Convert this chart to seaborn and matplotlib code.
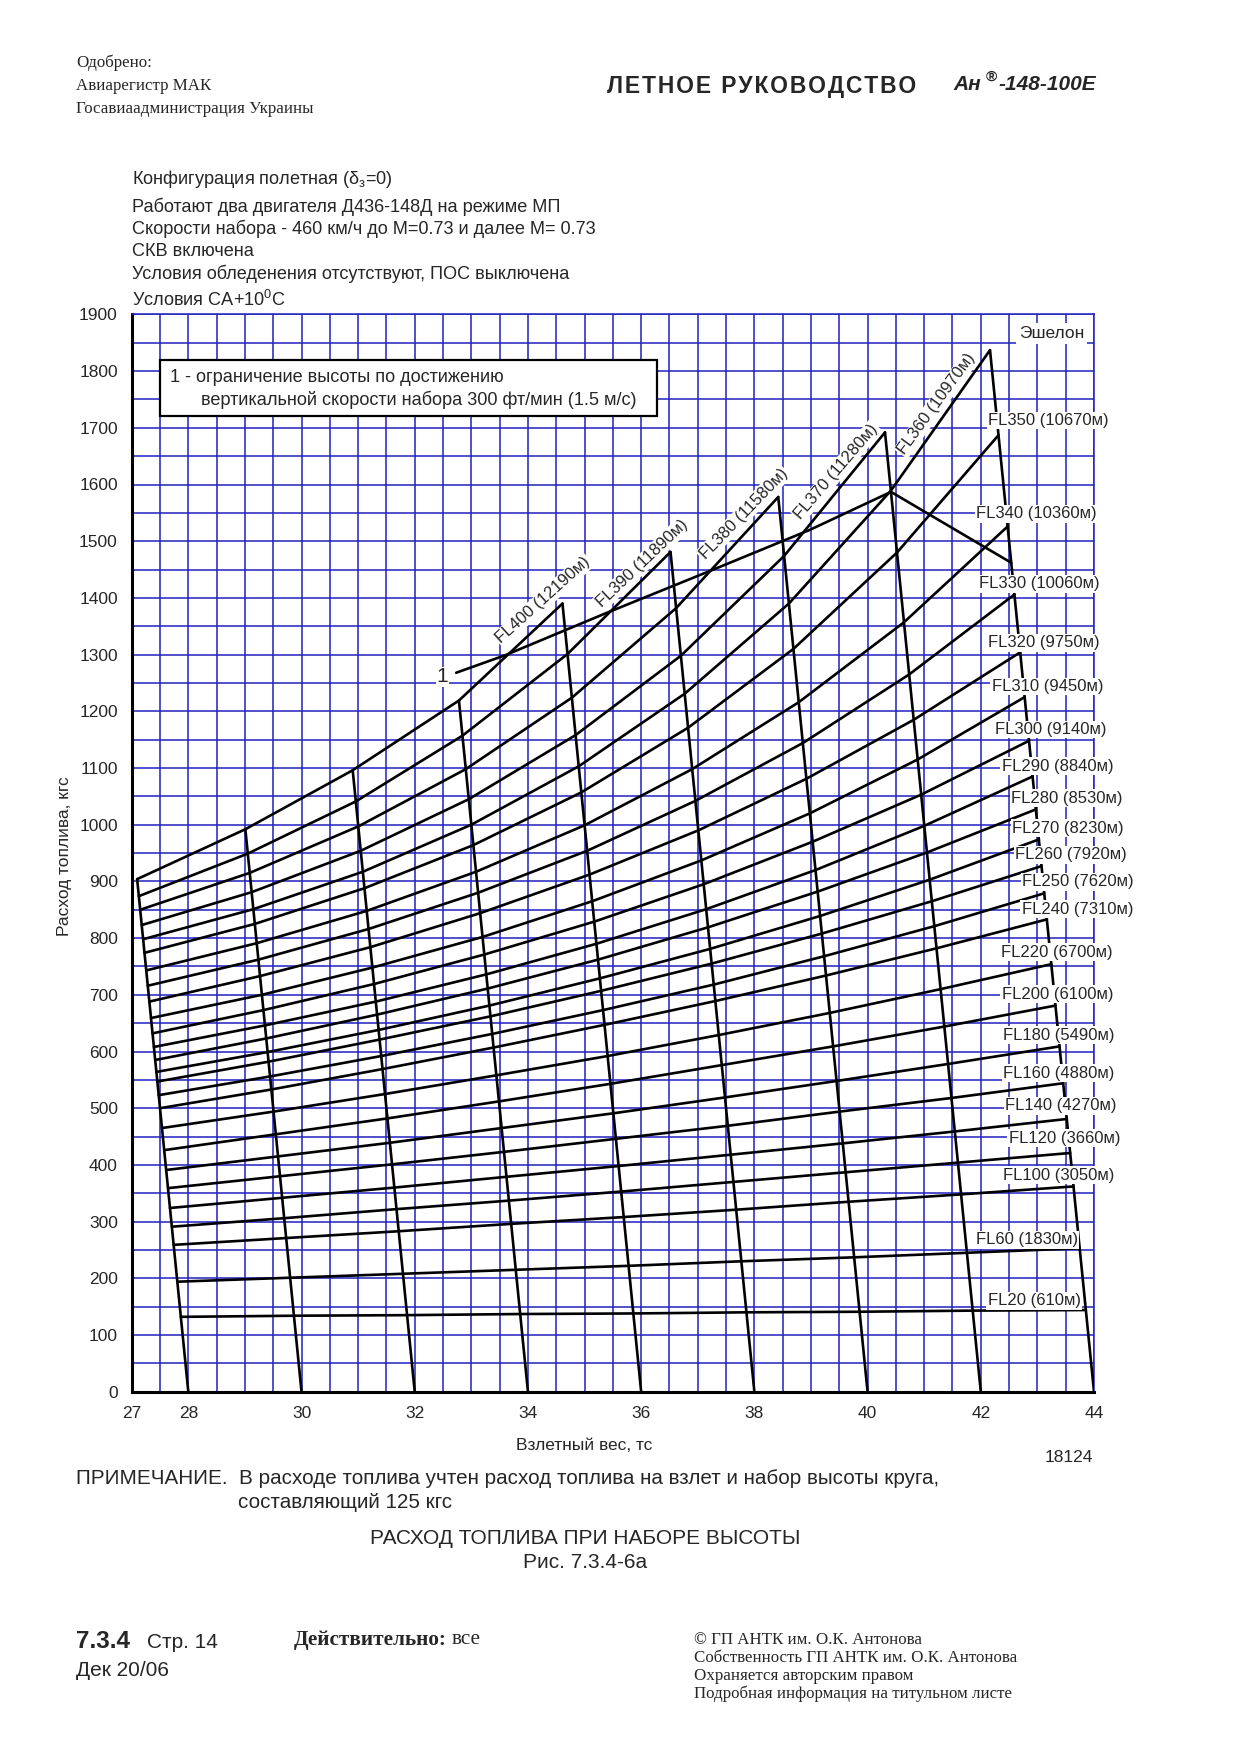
import matplotlib
matplotlib.use("Agg")
import matplotlib.pyplot as plt
from matplotlib.ticker import MultipleLocator
from matplotlib.patches import Rectangle
import numpy as np
import pandas as pd
import seaborn as sns

# ---------------- data ----------------
weights = [28, 30, 32, 34, 36, 38, 40, 42, 44]          # takeoff weight, tc
fl_names = ["FL400", "FL390", "FL380", "FL370", "FL360", "FL350", "FL340",
            "FL330", "FL320", "FL310", "FL300", "FL290", "FL280", "FL270",
            "FL260", "FL250", "FL240", "FL220", "FL200", "FL180", "FL160",
            "FL140", "FL120", "FL100", "FL60", "FL20"]
fl_alts = ["12190м", "11890м", "11580м", "11280м", "10970м", "10670м", "10360м",
           "10060м", "9750м", "9450м", "9140м", "8840м", "8530м", "8230м",
           "7920м", "7620м", "7310м", "6700м", "6100м", "5490м", "4880м",
           "4270м", "3660м", "3050м", "1830м", "610м"]

# fuel (kgs) at weights 28, 30, ... up to the line's last weight
fuel_fl400 = [904, 992, 1096, 1219, 1390]
fuel_fl390 = [874, 949, 1041, 1157, 1301, 1481]
fuel_fl380 = [850, 915, 997, 1098, 1224, 1382, 1578]
fuel_fl370 = [823, 881, 954, 1045, 1158, 1298, 1474, 1692]
fuel_fl360 = [798, 851, 917, 1000, 1103, 1231, 1390, 1589, 1837]
fuel_fl350 = [774, 825, 888, 964, 1057, 1171, 1310, 1480, 1687]
fuel_fl340 = [743, 791, 848, 917, 999, 1098, 1216, 1357, 1526]
fuel_fl330 = [716, 762, 816, 880, 954, 1042, 1144, 1265, 1406]
fuel_fl320 = [688, 733, 784, 844, 912, 990, 1081, 1185, 1304]
fuel_fl310 = [659, 700, 748, 802, 865, 937, 1020, 1115, 1225]
fuel_fl300 = [632, 673, 719, 771, 829, 895, 970, 1053, 1148]
fuel_fl290 = [608, 646, 688, 736, 790, 851, 920, 998, 1085]
fuel_fl280 = [585, 623, 665, 711, 762, 819, 882, 951, 1027]
fuel_fl270 = [564, 599, 638, 681, 729, 781, 839, 903, 974]
fuel_fl260 = [547, 582, 621, 662, 707, 755, 808, 865, 927]
fuel_fl250 = [523, 556, 592, 631, 673, 718, 768, 821, 879]
fuel_fl240 = [500, 533, 569, 607, 647, 689, 734, 782, 833]
fuel_fl220 = [465, 494, 525, 558, 592, 629, 668, 710, 754]
fuel_fl200 = [426, 454, 482, 512, 543, 576, 609, 644, 681]
fuel_fl180 = [391, 415, 439, 465, 491, 519, 548, 578, 609]
fuel_fl160 = [359, 380, 401, 423, 446, 469, 494, 518, 544]
fuel_fl140 = [324, 342, 360, 379, 398, 418, 438, 459, 481]
fuel_fl120 = [291, 306, 322, 337, 353, 370, 387, 404, 421]
fuel_fl100 = [259, 271, 283, 296, 308, 321, 335, 348, 362]
fuel_fl60 = [194, 201, 208, 215, 222, 230, 237, 245, 253]
fuel_fl20 = [132, 134, 135, 137, 138, 140, 141, 143, 144]

fl_fuels = [fuel_fl400, fuel_fl390, fuel_fl380, fuel_fl370, fuel_fl360,
            fuel_fl350, fuel_fl340, fuel_fl330, fuel_fl320, fuel_fl310,
            fuel_fl300, fuel_fl290, fuel_fl280, fuel_fl270, fuel_fl260,
            fuel_fl250, fuel_fl240, fuel_fl220, fuel_fl200, fuel_fl180,
            fuel_fl160, fuel_fl140, fuel_fl120, fuel_fl100, fuel_fl60,
            fuel_fl20]

# limit line "1" (vertical speed 300 ft/min)
lim_weight = [34.0, 34.9, 36.75, 38.7, 40.5, 42.0, 44.0]
lim_fuel = [1268, 1299, 1373, 1449, 1520, 1587, 1462]

x_ticks = [27, 28, 30, 32, 34, 36, 38, 40, 42, 44]
y_ticks = list(range(0, 1901, 100))

# ---------------- style / positions ----------------
SHEAR = 1.0 / 1000.0      # chart abscissa = weight - fuel * SHEAR
BLUE = "#2020c0"
W, H = 1240, 1755

# right-hand label positions (left edge x, centre y), data units
lab_x = [None, None, None, None, None, 42.13, 41.92, 41.97, 42.12, 42.19,
         42.25, 42.37, 42.54, 42.55, 42.61, 42.73, 42.72, 42.35, 42.37,
         42.40, 42.40, 42.43, 42.49, 42.40, 41.91, 42.12]
lab_y = [None, None, None, None, None, 1713, 1548, 1425, 1321, 1244, 1168,
         1103, 1047, 994, 947, 899, 851, 775, 701, 629, 562, 504, 447, 382,
         268, 160]
# rotated labels for the upper lines: centre x, centre y, angle
rot_lab = {"FL400": (34.27, 1396, 42), "FL390": (36.02, 1461, 43.5),
           "FL380": (37.81, 1548, 46), "FL370": (39.45, 1623, 49.5),
           "FL360": (41.22, 1742, 54)}

sns.set_theme(style="white")
plt.rcParams["font.family"] = ["Liberation Sans", "DejaVu Sans"]
plt.rcParams["mathtext.fontset"] = "custom"
plt.rcParams["mathtext.rm"] = "Liberation Sans"
plt.rcParams["mathtext.it"] = "Liberation Sans"
plt.rcParams["mathtext.bf"] = "Liberation Sans:bold"

SERIF = ["Liberation Serif", "DejaVu Serif"]
SANS = ["Liberation Sans", "DejaVu Sans"]

fig = plt.figure(figsize=(W / 100, H / 100), dpi=100)
fig.patch.set_facecolor("white")
ax = fig.add_axes([131.7 / W, 1 - 1391.7 / H, (1094 - 131.7) / W,
                   (1391.7 - 314.4) / H])

# build long-form tables
rows = []
for name, fuels in zip(fl_names, fl_fuels):
    for w, f in zip(weights, fuels):
        rows.append({"fl": name, "x": w - f * SHEAR, "fuel": f})
df_fl = pd.DataFrame(rows)

wrows = []
for w in weights:
    top = max(f[i] for f in fl_fuels for i in range(len(f)) if weights[i] == w)
    wrows.append({"w": w, "x": w, "fuel": 0})
    wrows.append({"w": w, "x": w - top * SHEAR, "fuel": top})
df_w = pd.DataFrame(wrows)

df_lim = pd.DataFrame({"x": [w - f * SHEAR for w, f in zip(lim_weight, lim_fuel)],
                       "fuel": lim_fuel})

LW = 1.9
sns.lineplot(data=df_fl, x="x", y="fuel", units="fl", estimator=None,
             sort=False, color="black", linewidth=LW, ax=ax, legend=False,
             zorder=3)
sns.lineplot(data=df_w, x="x", y="fuel", units="w", estimator=None,
             sort=False, color="black", linewidth=LW, ax=ax, legend=False,
             zorder=3)
sns.lineplot(data=df_lim, x="x", y="fuel", estimator=None, sort=False,
             color="black", linewidth=LW, ax=ax, legend=False, zorder=3)

ax.set_xlim(27, 44)
ax.set_ylim(0, 1900)
ax.set_xticks(x_ticks)
ax.set_yticks(y_ticks)
ax.xaxis.set_minor_locator(MultipleLocator(0.5))
ax.yaxis.set_minor_locator(MultipleLocator(50))
ax.xaxis.remove_overlapping_locs = False
ax.yaxis.remove_overlapping_locs = False
ax.grid(False, which="major")
ax.grid(True, which="minor", color=BLUE, linewidth=1.1)
ax.set_axisbelow(True)
ax.tick_params(which="major", direction="out", length=7, width=1.6,
               color="black", labelsize=12.5, pad=3)
ax.tick_params(which="minor", length=0)
for s in ["left", "bottom"]:
    ax.spines[s].set_color("black")
    ax.spines[s].set_linewidth(2.2)
for s in ["top", "right"]:
    ax.spines[s].set_color(BLUE)
    ax.spines[s].set_linewidth(1.1)
ax.set_xlabel("")
ax.set_ylabel("")

wbox = dict(facecolor="white", edgecolor="none", pad=1.0)
for i, name in enumerate(fl_names):
    txt = f"{name} ({fl_alts[i]})"
    if name in rot_lab:
        cx, cy, ang = rot_lab[name]
        ax.text(cx, cy, txt, rotation=ang, ha="center", va="center",
                rotation_mode="anchor", fontsize=12, bbox=wbox, zorder=5)
    else:
        ax.text(lab_x[i], lab_y[i], txt, ha="left", va="center",
                fontsize=12, bbox=wbox, zorder=5, clip_on=False)

ax.text(32.49, 1261, "1", ha="center", va="center", fontsize=15,
        bbox=dict(facecolor="white", edgecolor="none", pad=0.5), zorder=5)
ax.text(43.25, 1866, "Эшелон", ha="center", va="center", fontsize=12.5,
        bbox=dict(facecolor="white", edgecolor="none", pad=2), zorder=5)


def ft(x, y, s, **kw):
    return fig.text(x / W, 1 - y / H, s, **kw)


# header
ft(76, 63, "Одобрено:", fontsize=12.2, family=SERIF, va="center")
ft(76, 86, "Авиарегистр МАК", fontsize=12.2, family=SERIF, va="center")
ft(76, 109, "Госавиаадминистрация Украины", fontsize=12.2, family=SERIF,
   va="center")
ft(607, 86, "\u200a".join("ЛЕТНОЕ РУКОВОДСТВО"), fontsize=16.5,
   fontweight="bold", family=SANS, va="center")
ft(953, 85, "Ан", fontsize=15, fontweight="bold", style="italic", va="center")
ft(986, 77, "®", fontsize=11, fontweight="bold", va="center")
ft(998, 85, "-148-100E", fontsize=15, fontweight="bold", style="italic",
   va="center")

# conditions
cond = ["Конфигурация полетная ($\\delta_{з}$=0)",
        "Работают два двигателя Д436-148Д на режиме МП",
        "Скорости набора - 460 км/ч до М=0.73 и далее М= 0.73",
        "СКВ включена",
        "Условия обледенения отсутствуют, ПОС выключена",
        "Условия СА+10$^{0}$С"]
cond_y = [179, 207, 229, 252, 274, 300]
for s, y in zip(cond, cond_y):
    ft(132, y, s, fontsize=13.1, va="center")

# legend box
fig.patches.append(Rectangle((160 / W, 1 - 416 / H), 497 / W, 56 / H,
                             transform=fig.transFigure, facecolor="white",
                             edgecolor="black", linewidth=1.6, zorder=6))
ft(170, 377, "1 - ограничение высоты по достижению", fontsize=13.1,
   va="center", zorder=7)
ft(201, 400, "вертикальной скорости набора 300 фт/мин (1.5 м/с)",
   fontsize=13.1, va="center", zorder=7)

# axis labels
ft(65, 856, "Расход топлива, кгс", fontsize=12.5, rotation=90, ha="center",
   va="center")
ft(584, 1446, "Взлетный вес, тс", fontsize=12.5, ha="center", va="center")
ft(1069, 1457, "18124", fontsize=12.5, ha="center", va="center")

# note and caption
ft(76, 1479, "ПРИМЕЧАНИЕ.  В расходе топлива учтен расход топлива на взлет "
   "и набор высоты круга,", fontsize=14.9, va="center")
ft(238, 1503, "составляющий 125 кгс", fontsize=14.9, va="center")
ft(585, 1539, "РАСХОД ТОПЛИВА ПРИ НАБОРЕ ВЫСОТЫ", fontsize=15, ha="center",
   va="center")
ft(585, 1562, "Рис. 7.3.4-6а", fontsize=15, ha="center", va="center")

# footer
ft(76, 1642, "7.3.4", fontsize=17.5, fontweight="bold", va="center")
ft(147, 1643, "Стр. 14", fontsize=15, va="center")
ft(76, 1671, "Дек 20/06", fontsize=15, va="center")
ft(294, 1640, "Действительно:", fontsize=15.3, fontweight="bold",
   family=SERIF, va="center")
ft(452, 1640, "все", fontsize=15.3, family=SERIF, va="center")
copy_lines = ["© ГП АНТК им. О.К. Антонова",
              "Собственность ГП АНТК им. О.К. Антонова",
              "Охраняется авторским правом",
              "Подробная информация на титульном листе"]
for k, s in enumerate(copy_lines):
    ft(694, 1640 + 17.8 * k, s, fontsize=12.2, family=SERIF, va="center")

fig.savefig("out.png", dpi=100, facecolor="white")
